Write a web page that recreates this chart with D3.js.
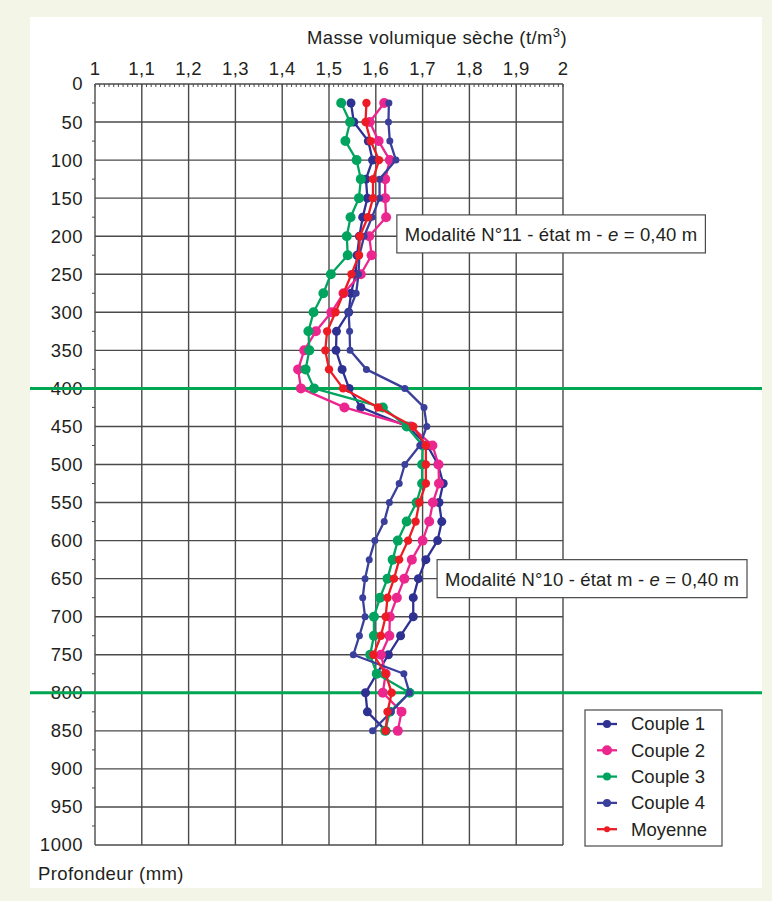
<!DOCTYPE html>
<html>
<head>
<meta charset="utf-8">
<script src="https://cdn.jsdelivr.net/npm/d3@7"></script>
<style>
  body { margin: 0; background: #f3f5e7; }
  svg { display: block; font-family: "Liberation Sans", Arial, sans-serif; }
</style>
</head>
<body>
<svg id="chart"></svg>
<script>
// depths (mm) of each measuring point
var depths = [25, 50, 75, 100, 125, 150, 175, 200, 225, 250, 275, 300, 325, 350, 375, 400, 425,
  450, 475, 500, 525, 550, 575, 600, 625, 650, 675, 700, 725, 750, 775, 800, 825, 850];

var couple1 = [1.547, 1.553, 1.584, 1.593, 1.579, 1.582, 1.572, 1.565, 1.560, 1.557, 1.547, 1.542, 1.516, 1.515, 1.528, 1.543, 1.568,
  1.668, 1.710, 1.733, 1.744, 1.735, 1.741, 1.732, 1.707, 1.691, 1.680, 1.680, 1.653, 1.627, 1.602, 1.578, 1.582, 1.622];
var couple2 = [1.618, 1.587, 1.606, 1.630, 1.620, 1.620, 1.622, 1.586, 1.591, 1.568, 1.531, 1.505, 1.472, 1.447, 1.434, 1.440, 1.533,
  1.675, 1.721, 1.734, 1.735, 1.722, 1.714, 1.700, 1.677, 1.661, 1.645, 1.630, 1.629, 1.611, 1.621, 1.615, 1.655, 1.647];
var couple3 = [1.526, 1.545, 1.535, 1.559, 1.568, 1.564, 1.546, 1.538, 1.540, 1.504, 1.488, 1.467, 1.456, 1.458, 1.450, 1.468, 1.615,
  1.666, 1.700, 1.699, 1.699, 1.687, 1.666, 1.647, 1.636, 1.625, 1.609, 1.596, 1.596, 1.588, 1.602, 1.672, 1.630, 1.620];
var couple4 = [1.628, 1.627, 1.630, 1.643, 1.608, 1.608, 1.592, 1.575, 1.565, 1.563, 1.558, 1.542, 1.544, 1.545, 1.580, 1.662, 1.703,
  1.709, 1.694, 1.662, 1.650, 1.629, 1.618, 1.598, 1.586, 1.577, 1.572, 1.577, 1.565, 1.552, 1.660, 1.672, 1.633, 1.593];
var moyenne = [1.580, 1.578, 1.589, 1.607, 1.594, 1.594, 1.583, 1.566, 1.564, 1.548, 1.531, 1.514, 1.496, 1.492, 1.500, 1.530, 1.605,
  1.680, 1.707, 1.707, 1.707, 1.693, 1.685, 1.669, 1.650, 1.639, 1.625, 1.621, 1.611, 1.595, 1.621, 1.634, 1.625, 1.621];

var seriesNames = ["Couple 1", "Couple 2", "Couple 3", "Couple 4", "Moyenne"];
var xTicks = [1, 1.1, 1.2, 1.3, 1.4, 1.5, 1.6, 1.7, 1.8, 1.9, 2];
var yTicks = d3.range(0, 1001, 50);
var layerLimits = [400, 800];
// annotation boxes: left edge (t/m3) and vertical centre (mm)
var notes = [
  {text: "Modalité N°11 - état m - ", depth: 197, val: 1.645},
  {text: "Modalité N°10 - état m - ", depth: 650, val: 1.731}
];

var W = 772, H = 901;
var margin = {top: 84, left: 95, right: W - 563, bottom: H - 845};
var ink = "#231f20";

var svg = d3.select("#chart").attr("width", W).attr("height", H);

// white panel
svg.append("rect").attr("x", 30).attr("y", 17).attr("width", 732).attr("height", 871).attr("fill", "#fff");

var x = d3.scaleLinear().domain([1, 2]).range([margin.left, W - margin.right]);
var y = d3.scaleLinear().domain([0, 1000]).range([margin.top, H - margin.bottom]);

var grid = svg.append("g").attr("stroke", "#4a4a4a").attr("stroke-width", 1.4);
grid.selectAll(".v").data(xTicks).join("line")
  .attr("x1", d => x(d)).attr("x2", d => x(d))
  .attr("y1", y(0)).attr("y2", y(1000));
grid.selectAll(".h").data(yTicks).join("line")
  .attr("x1", x(1)).attr("x2", x(2))
  .attr("y1", d => y(d)).attr("y2", d => y(d));

// minor ticks
var minorX = d3.range(1, 2.0001, 0.01);
svg.append("g").attr("stroke", "#4a4a4a").attr("stroke-width", 1)
  .selectAll("line").data(minorX).join("line")
  .attr("x1", d => x(d)).attr("x2", d => x(d))
  .attr("y1", y(0)).attr("y2", y(0) + 3);
svg.append("g").attr("stroke", "#4a4a4a").attr("stroke-width", 1)
  .selectAll("line").data(d3.range(25, 1000, 50)).join("line")
  .attr("x1", x(1) - 3).attr("x2", x(1))
  .attr("y1", d => y(d)).attr("y2", d => y(d));

// tick labels
var fmt = d => String(d).replace(".", ",");
svg.append("g").selectAll("text").data(xTicks).join("text")
  .attr("x", d => x(d)).attr("y", 75)
  .attr("text-anchor", "middle").attr("font-size", 18.5).attr("letter-spacing", 0.4).attr("fill", ink)
  .text(fmt);
svg.append("g").selectAll("text").data(yTicks).join("text")
  .attr("x", 83).attr("y", d => y(d)).attr("dy", "0.35em")
  .attr("text-anchor", "end").attr("font-size", 18.5).attr("letter-spacing", 0.5).attr("fill", ink)
  .text(d => d);

// axis titles
var tt = svg.append("text").attr("x", 437).attr("y", 44).attr("text-anchor", "middle")
  .attr("font-size", 18.5).attr("letter-spacing", 0.4).attr("fill", ink);
tt.append("tspan").text("Masse volumique sèche (t/m");
tt.append("tspan").attr("dy", -7).attr("font-size", 13).text("3");
tt.append("tspan").attr("dy", 7).text(")");
svg.append("text").attr("x", 38).attr("y", 880).attr("font-size", 18.5).attr("letter-spacing", 0.4).attr("fill", ink)
  .text("Profondeur (mm)");

// layer limits
svg.append("g").selectAll("line").data(layerLimits).join("line")
  .attr("x1", 30).attr("x2", 762)
  .attr("y1", d => y(d)).attr("y2", d => y(d))
  .attr("stroke", "#00a651").attr("stroke-width", 3);

// series
var series = [
  {name: seriesNames[0], values: couple1, color: "#2e3192", r: 4.5},
  {name: seriesNames[1], values: couple2, color: "#ec268f", r: 5},
  {name: seriesNames[2], values: couple3, color: "#00a45f", r: 5},
  {name: seriesNames[3], values: couple4, color: "#3a3f9c", r: 3.5},
  {name: seriesNames[4], values: moyenne, color: "#ed1c24", r: 4.2}
];
var line = d3.line().x(d => x(d[0])).y(d => y(d[1]));
series.forEach(function(s) {
  var pts = s.values.map((v, j) => [v, depths[j]]);
  var g = svg.append("g");
  g.append("path").datum(pts).attr("d", line)
    .attr("fill", "none").attr("stroke", s.color).attr("stroke-width", 2.3)
    .attr("stroke-linejoin", "round");
  g.selectAll("circle").data(pts).join("circle")
    .attr("cx", d => x(d[0])).attr("cy", d => y(d[1])).attr("r", s.r)
    .attr("fill", s.color);
});

// annotations
notes.forEach(function(n) {
  var g = svg.append("g");
  var bx = x(n.val), cy = y(n.depth);
  var rect = g.append("rect");
  var t = g.append("text").attr("x", bx + 8).attr("y", cy + 7)
    .attr("font-size", 18.5).attr("letter-spacing", 0.15).attr("fill", ink);
  t.append("tspan").text(n.text);
  t.append("tspan").attr("font-style", "italic").text("e");
  t.append("tspan").text(" = 0,40 m");
  var bw = t.node().getComputedTextLength() + 16, bh = 38;
  rect.attr("x", bx).attr("y", cy - bh / 2)
    .attr("width", bw).attr("height", bh)
    .attr("fill", "#fff").attr("stroke", "#4a4a4a").attr("stroke-width", 1.2);
});

// legend
var lg = svg.append("g").attr("transform", "translate(585,710)");
lg.append("rect").attr("width", 137).attr("height", 136)
  .attr("fill", "#fff").attr("stroke", "#4a4a4a").attr("stroke-width", 1.2);
series.forEach(function(s, i) {
  var ly = 14 + i * 26.3;
  lg.append("line").attr("x1", 12).attr("x2", 32).attr("y1", ly).attr("y2", ly)
    .attr("stroke", s.color).attr("stroke-width", 2.3);
  lg.append("circle").attr("cx", 22).attr("cy", ly).attr("r", i === 1 ? 5 : (i === 4 ? 3 : 4))
    .attr("fill", s.color);
  lg.append("text").attr("x", 46).attr("y", ly).attr("dy", "0.35em")
    .attr("font-size", 18.5).attr("fill", ink).text(s.name);
});
</script>
</body>
</html>
